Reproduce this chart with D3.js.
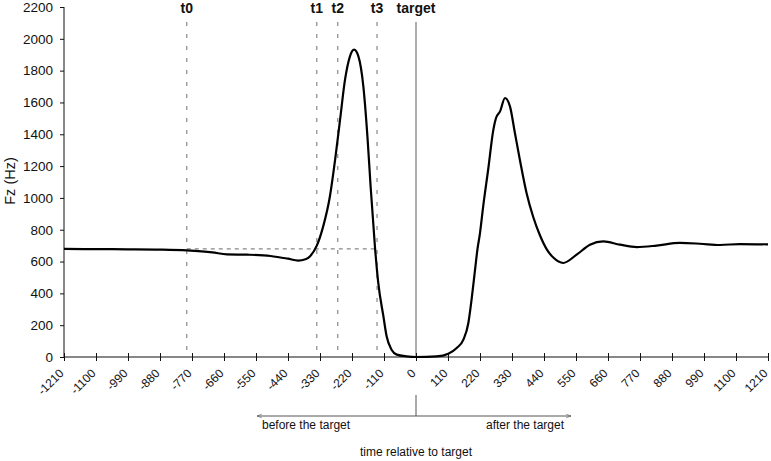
<!DOCTYPE html>
<html lang="en">
<head>
  <meta charset="UTF-8">
  <title>Fz relative to target</title>
  <script src="https://d3js.org/d3.v7.min.js"></script>
  <style>
    body {
      margin: 0;
      padding: 0;
      background: #fff;
      font-family: "Liberation Sans", Arial, sans-serif;
    }
    svg text {
      fill: #111;
    }
  </style>
</head>
<body>
<svg id="chart" width="771" height="461"></svg>
<script>
// time (ms) relative to target and Fz (Hz)
const times = [-1210, -1100, -990, -880, -788, -700, -650, -580, -500, -440, -405, -380, -364, -341,
  -319, -296, -278, -261, -244, -227, -213, -198, -181, -167, -156, -141, -130, -112, -101, -84,
  -66, -32, 0, 71, 111, 140, 163, 180, 191, 203, 211, 220, 231, 248, 266, 275, 289, 306, 323,
  340, 357, 380, 403, 426, 450, 472, 506, 552, 598, 644, 701, 759, 827, 907, 976, 1045, 1114, 1210];
const fz = [680, 678, 677, 675, 670, 658, 645, 643, 635, 618, 606, 614, 634, 700,
  821, 1009, 1240, 1492, 1743, 1890, 1932, 1890, 1701, 1387, 1072, 690, 470, 255, 130, 46,
  15, 4, 0, 4, 21, 57, 109, 214, 360, 549, 674, 779, 947, 1177, 1429, 1502, 1544, 1628, 1575,
  1408, 1240, 1031, 880, 765, 675, 625, 591, 643, 706, 727, 706, 691, 700, 717, 712, 704, 710, 708];

const xTicks = [-1210, -1100, -990, -880, -770, -660, -550, -440, -330, -220, -110, 0,
  110, 220, 330, 440, 550, 660, 770, 880, 990, 1100, 1210];
const yTicks = [0, 200, 400, 600, 800, 1000, 1200, 1400, 1600, 1800, 2000, 2200];

const markerNames = ["t0", "t1", "t2", "t3"];
const markerTimes = [-788, -341, -269, -134];
const baselineFz = 680;

const svg = d3.select("#chart");
const x = d3.scaleLinear().domain([-1210, 1210]).range([64, 768]);
const y = d3.scaleLinear().domain([0, 2200]).range([357, 7]);

// reference lines
svg.selectAll(".marker")
  .data(markerTimes)
  .join("line")
  .attr("x1", d => x(d)).attr("x2", d => x(d))
  .attr("y1", 22).attr("y2", y(0))
  .attr("stroke", "#888")
  .attr("stroke-width", 1.2)
  .attr("stroke-dasharray", "4,8");

svg.append("line")
  .attr("x1", x(markerTimes[0])).attr("x2", x(markerTimes[3]))
  .attr("y1", y(baselineFz)).attr("y2", y(baselineFz))
  .attr("stroke", "#888")
  .attr("stroke-width", 1.2)
  .attr("stroke-dasharray", "4,4");

svg.append("line")
  .attr("x1", x(0)).attr("x2", x(0))
  .attr("y1", 22).attr("y2", y(0))
  .attr("stroke", "#777")
  .attr("stroke-width", 1.2);

svg.selectAll(".mlabel")
  .data(markerTimes)
  .join("text")
  .attr("x", d => x(d))
  .attr("y", 13)
  .attr("text-anchor", "middle")
  .style("font-size", "14px")
  .style("font-weight", "bold")
  .text((d, i) => markerNames[i]);

svg.append("text")
  .attr("x", x(0))
  .attr("y", 13)
  .attr("text-anchor", "middle")
  .style("font-size", "14px")
  .style("font-weight", "bold")
  .text("target");

// axes
const yAxis = svg.append("g")
  .attr("transform", `translate(${x(-1210)},0)`)
  .call(d3.axisLeft(y).tickValues(yTicks).tickSize(4).tickPadding(7).tickFormat(d3.format("d")));
yAxis.select(".domain").attr("d", `M0,${y(2200)}V${y(0)}`);
yAxis.selectAll("text").style("font-size", "13.5px").style("font-family", "Liberation Sans, Arial, sans-serif");

const xAxis = svg.append("g")
  .attr("transform", `translate(0,${y(0)})`)
  .call(d3.axisBottom(x).tickValues(xTicks).tickSize(4).tickFormat(d3.format("d")));
xAxis.select(".domain").attr("d", `M${x(-1210)},0H${x(1210)}`);
xAxis.selectAll(".tick line").attr("y1", -4).attr("y2", 4);
xAxis.selectAll("text")
  .attr("y", 0).attr("dy", null)
  .attr("text-anchor", "end")
  .attr("transform", "translate(0,17) rotate(-45)")
  .style("font-size", "12px")
  .style("font-family", "Liberation Sans, Arial, sans-serif")
  .text(d => d < 0 ? "-" + Math.abs(d) : d);
xAxis.selectAll("line, path").attr("stroke", "#111");
yAxis.selectAll("line, path").attr("stroke", "#111");

svg.append("text")
  .attr("transform", "translate(15,181) rotate(-90)")
  .attr("text-anchor", "middle")
  .style("font-size", "14.5px")
  .text("Fz (Hz)");

// the Fz trace
const points = times.map((t, i) => [t, fz[i]]);
svg.append("path")
  .datum(points)
  .attr("fill", "none")
  .attr("stroke", "#000")
  .attr("stroke-width", 2.2)
  .attr("d", d3.line().x(d => x(d[0])).y(d => y(d[1])).curve(d3.curveMonotoneX));

// before/after arrow
svg.append("defs").selectAll("marker")
  .data(["start", "end"])
  .join("marker")
  .attr("id", d => "arrow-" + d)
  .attr("viewBox", "0 0 10 10")
  .attr("refX", d => d === "end" ? 9 : 1)
  .attr("refY", 5)
  .attr("markerWidth", 6)
  .attr("markerHeight", 6)
  .attr("orient", "auto")
  .append("path")
  .attr("d", d => d === "end" ? "M1,2L9,5L1,8" : "M9,2L1,5L9,8")
  .attr("fill", "none")
  .attr("stroke", "#555");

svg.append("line")
  .attr("x1", 257).attr("x2", 571)
  .attr("y1", 416).attr("y2", 416)
  .attr("stroke", "#555")
  .attr("marker-start", "url(#arrow-start)")
  .attr("marker-end", "url(#arrow-end)");

svg.append("line")
  .attr("x1", x(0)).attr("x2", x(0))
  .attr("y1", 395).attr("y2", 416)
  .attr("stroke", "#555");

svg.append("text")
  .attr("x", 262).attr("y", 429)
  .style("font-size", "12px")
  .text("before the target");

svg.append("text")
  .attr("x", 564).attr("y", 429)
  .attr("text-anchor", "end")
  .style("font-size", "12px")
  .text("after the target");

svg.append("text")
  .attr("x", x(0)).attr("y", 456)
  .attr("text-anchor", "middle")
  .style("font-size", "12px")
  .text("time relative to target");
</script>
</body>
</html>
